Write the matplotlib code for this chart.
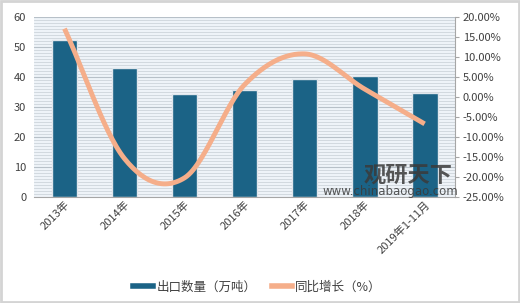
import numpy as np
import matplotlib.pyplot as plt
from matplotlib.lines import Line2D

plt.rcParams['font.family'] = ['Noto Sans CJK SC', 'DejaVu Sans']

years = ['2013年', '2014年', '2015年', '2016年', '2017年', '2018年', '2019年1-11月']
export_qty = [52.2, 43.0, 34.2, 35.4, 39.1, 40.2, 34.5]   # 出口数量（万吨）
yoy_growth = [17.0, -15.5, -20.3, 3.0, 10.7, 1.9, -6.8]    # 同比增长（%）

bar_color = '#1b6386'
line_color = '#f5ae8a'


def smooth(x, y, n=30):
    # catmull-rom like excel smoothed line
    x = np.asarray(x, float)
    y = np.asarray(y, float)
    m = np.zeros_like(y)
    m[1:-1] = (y[2:] - y[:-2]) / 2
    m[0] = y[1] - y[0]
    m[-1] = y[-1] - y[-2]
    xs, ys = [], []
    for i in range(len(x) - 1):
        t = np.linspace(0, 1, n)
        h00 = 2 * t**3 - 3 * t**2 + 1
        h10 = t**3 - 2 * t**2 + t
        h01 = -2 * t**3 + 3 * t**2
        h11 = t**3 - t**2
        xs.append(x[i] + t * (x[i + 1] - x[i]))
        ys.append(h00 * y[i] + h10 * m[i] + h01 * y[i + 1] + h11 * m[i + 1])
    return np.concatenate(xs), np.concatenate(ys)


fig = plt.figure(figsize=(5.2, 3.03), dpi=100)
fig.patch.set_facecolor('white')
fig.add_artist(plt.Rectangle((0.002, 0.003), 0.996, 0.994, transform=fig.transFigure,
                             fill=False, edgecolor='#d4d4d4', linewidth=2))

ax = fig.add_axes([0.0663, 0.351, 0.808, 0.594])
ax.set_facecolor('#eef3f8')
x = np.arange(len(years))

# striped background
for v in np.arange(1, 60, 1.0):
    ax.axhline(v, color='#cdd4db', linewidth=0.6, zorder=0)
for v in range(10, 61, 10):
    ax.axhline(v, color='#b7c0c8', linewidth=0.8, zorder=0)

ax.bar(x, export_qty, width=0.43, color=bar_color, edgecolor='#dfe6ec', linewidth=1.0, zorder=2)
ax.set_xlim(-0.5, len(years) - 0.5)
ax.set_ylim(0, 60)
ax.set_yticks(range(0, 61, 10))
ax.tick_params(axis='y', length=0, labelsize=8, colors='#404040', pad=6)
ax.tick_params(axis='x', length=0, labelsize=8, colors='#404040', pad=2)
ax.set_xticks(x)
ax.set_xticklabels(years, rotation=45, ha='right', rotation_mode='anchor')
for s in ['left', 'top', 'right']:
    ax.spines[s].set_visible(False)
ax.spines['bottom'].set_color('#a6a6a6')

ax2 = ax.twinx()
sx, sy = smooth(x, yoy_growth)
ax2.plot(sx, sy, color=line_color, linewidth=3.5, solid_capstyle='butt', zorder=3)
ax2.set_ylim(-25, 20)
ax2.set_yticks(np.arange(-25, 21, 5))
ax2.set_yticklabels([f'{v:.2f}%' for v in np.arange(-25, 21, 5)])
ax2.tick_params(axis='y', length=3, color='#a6a6a6', labelsize=8, colors='#404040', pad=3)
for s in ['left', 'top', 'bottom']:
    ax2.spines[s].set_visible(False)
ax2.spines['right'].set_color('#a6a6a6')

# watermark
fig.text(0.700, 0.400, '观研天下', fontsize=16, fontweight='bold', color='#3a3a3a', alpha=0.85)
fig.text(0.620, 0.355, 'www.chinabaogao.com', fontsize=8.5, color='#3a3a3a', alpha=0.85,
         family=['DejaVu Sans'])

handles = [Line2D([0], [0], color=bar_color, linewidth=4),
           Line2D([0], [0], color=line_color, linewidth=4)]
leg = fig.legend(handles, ['出口数量（万吨）', '同比增长（%）'], loc='center',
                 bbox_to_anchor=(0.495, 0.052), ncol=2, frameon=True, fontsize=9,
                 handlelength=1.6, columnspacing=1.2, handletextpad=0.3)
leg.get_frame().set_edgecolor('white')
for t in leg.get_texts():
    t.set_color('#404040')

fig.savefig('out.png', dpi=100)
